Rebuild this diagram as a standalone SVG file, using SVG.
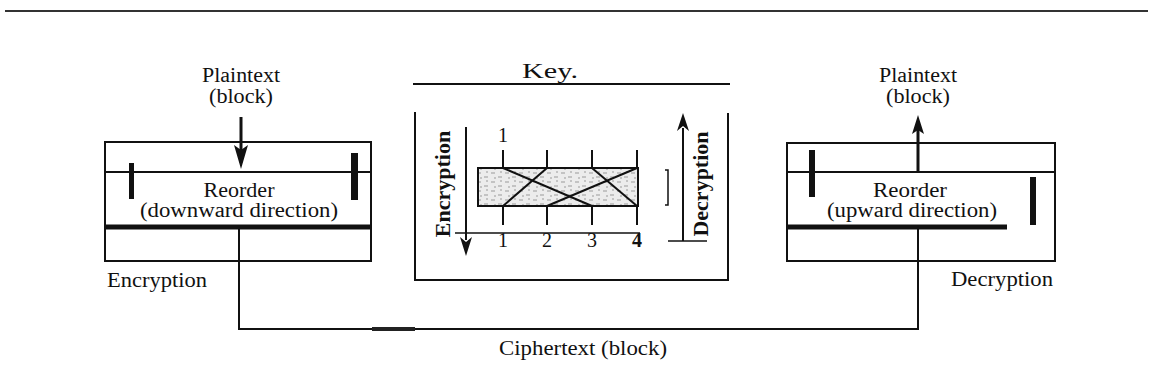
<svg xmlns="http://www.w3.org/2000/svg" width="1152" height="391" viewBox="0 0 1152 391">
<style>
  .t { font-family: "Liberation Serif", "Times New Roman", serif; font-size: 20px; fill: #111; }
  .b { font-family: "Liberation Serif", "Times New Roman", serif; font-size: 22px; font-weight: bold; fill: #111; }
  .ln { stroke: #111; stroke-width: 2; fill: none; }
  .thick { stroke: #111; stroke-width: 5; fill: none; }
  .bar { fill: #111; }
</style>
<defs>
  <pattern id="speckle" width="14" height="9" patternUnits="userSpaceOnUse">
    <rect width="14" height="9" fill="#ececec"/>
    <path d="M1 2 h4 M8 6 h4 M4 7 h2 M10 1 h2" stroke="#9a9a9a" stroke-width="1"/>
  </pattern>
</defs>
<rect width="1152" height="391" fill="#fff"/>
<line x1="5" y1="11" x2="1148" y2="11" stroke="#333" stroke-width="2"/>

<g id="enc-node">
  <text class="t" x="241" y="82" text-anchor="middle" textLength="78" lengthAdjust="spacingAndGlyphs">Plaintext</text>
  <text class="t" x="241" y="103" text-anchor="middle" textLength="64" lengthAdjust="spacingAndGlyphs">(block)</text>
  <line x1="241" y1="117" x2="241" y2="150" stroke="#111" stroke-width="3"/>
  <polygon points="234,145 241,150 248,145 241,169" fill="#111"/>
  <rect x="105" y="142" width="266" height="119" class="ln"/>
  <line x1="105" y1="172" x2="371" y2="172" class="ln"/>
  <line x1="105" y1="227" x2="371" y2="227" class="thick"/>
  <rect x="129" y="163" width="5" height="36" class="bar"/>
  <rect x="351" y="153" width="7" height="47" class="bar"/>
  <text class="t" x="239" y="197" text-anchor="middle" textLength="71" lengthAdjust="spacingAndGlyphs">Reorder</text>
  <text class="t" x="239" y="217" text-anchor="middle" textLength="198" lengthAdjust="spacingAndGlyphs">(downward direction)</text>
  <text class="t" x="107" y="287" textLength="100" lengthAdjust="spacingAndGlyphs">Encryption</text>
</g>

<g id="key-node">
  <text class="t" x="550" y="78" text-anchor="middle" font-size="21" textLength="56" lengthAdjust="spacingAndGlyphs">Key.</text>
  <line x1="413" y1="84" x2="730" y2="84" class="ln"/>
  <path d="M415 112 V280 H728 V113" class="ln"/>
  <text class="b" transform="translate(450,184) rotate(-90)" text-anchor="middle">Encryption</text>
  <line x1="466" y1="127" x2="466" y2="240" class="ln"/>
  <polygon points="460,237 466,242 472,237 466,256" fill="#111"/>
  <line x1="455" y1="233" x2="640" y2="233" stroke="#111" stroke-width="1.5"/>
  <rect x="478" y="168" width="160" height="38" fill="url(#speckle)" stroke="#111" stroke-width="2"/>
  <g stroke="#111" stroke-width="2">
    <line x1="503" y1="150" x2="503" y2="168"/>
    <line x1="547" y1="150" x2="547" y2="168"/>
    <line x1="592" y1="150" x2="592" y2="168"/>
    <line x1="637" y1="150" x2="637" y2="168"/>
    <line x1="503" y1="206" x2="503" y2="225"/>
    <line x1="547" y1="206" x2="547" y2="225"/>
    <line x1="592" y1="206" x2="592" y2="225"/>
    <line x1="637" y1="206" x2="637" y2="225"/>
    <line x1="503" y1="168" x2="592" y2="206"/>
    <line x1="547" y1="168" x2="503" y2="206"/>
    <line x1="592" y1="168" x2="637" y2="206"/>
    <line x1="637" y1="168" x2="547" y2="206"/>
  </g>
  <text class="t" x="503" y="142" text-anchor="middle">1</text>
  <text class="t" x="503" y="247" text-anchor="middle">1</text>
  <text class="t" x="547" y="247" text-anchor="middle">2</text>
  <text class="t" x="592" y="247" text-anchor="middle">3</text>
  <text class="t" x="637" y="247" text-anchor="middle" font-family="Liberation Sans, Arial, sans-serif" font-weight="bold">4</text>
  <path d="M665 170 H668 V205 H665" stroke="#111" stroke-width="1.5" fill="none"/>
  <line x1="683" y1="241" x2="683" y2="128" class="ln"/>
  <polygon points="677,131 683,126 689,131 683,113" fill="#111"/>
  <line x1="668" y1="241" x2="707" y2="241" stroke="#111" stroke-width="1.5"/>
  <text class="b" transform="translate(708,184) rotate(-90)" text-anchor="middle">Decryption</text>
</g>

<g id="dec-node">
  <text class="t" x="918" y="82" text-anchor="middle" textLength="78" lengthAdjust="spacingAndGlyphs">Plaintext</text>
  <text class="t" x="918" y="103" text-anchor="middle" textLength="64" lengthAdjust="spacingAndGlyphs">(block)</text>
  <line x1="918" y1="172" x2="918" y2="128" stroke="#111" stroke-width="3"/>
  <polygon points="912,134 918,130 924,134 918,115" fill="#111"/>
  <rect x="787" y="143" width="268" height="118" class="ln"/>
  <line x1="787" y1="172" x2="1055" y2="172" class="ln"/>
  <line x1="787" y1="227" x2="1007" y2="227" class="thick"/>
  <rect x="809" y="150" width="6" height="47" class="bar"/>
  <rect x="1030" y="177" width="6" height="48" class="bar"/>
  <text class="t" x="910" y="197" text-anchor="middle" textLength="74" lengthAdjust="spacingAndGlyphs">Reorder</text>
  <text class="t" x="912" y="217" text-anchor="middle" textLength="170" lengthAdjust="spacingAndGlyphs">(upward direction)</text>
  <text class="t" x="1053" y="286" text-anchor="end" textLength="102" lengthAdjust="spacingAndGlyphs">Decryption</text>
</g>

<g id="connectors">
  <path d="M239 227 V329 H918 V227" class="ln"/>
  <line x1="372" y1="329" x2="415" y2="329" stroke="#222" stroke-width="4"/>
  <text class="t" x="583" y="355" text-anchor="middle" textLength="168" lengthAdjust="spacingAndGlyphs">Ciphertext (block)</text>
</g>
</svg>
